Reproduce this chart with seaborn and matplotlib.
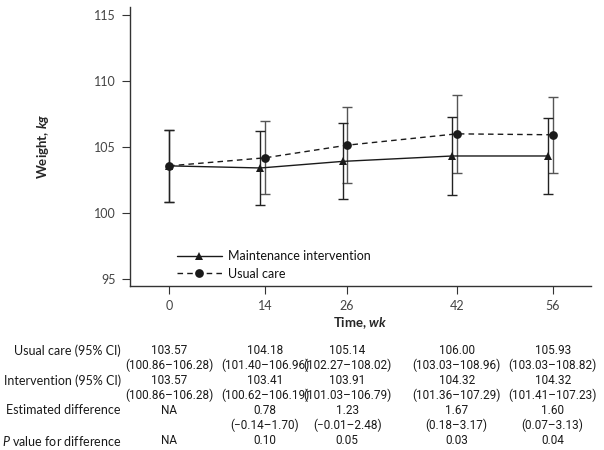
import numpy as np
import pandas as pd
import seaborn as sns
import matplotlib.pyplot as plt
from matplotlib.transforms import blended_transform_factory

weeks = [0, 14, 26, 42, 56]
usual = [103.57, 104.18, 105.14, 106.00, 105.93]
usual_lo = [100.86, 101.40, 102.27, 103.03, 103.03]
usual_hi = [106.28, 106.96, 108.02, 108.96, 108.82]
interv = [103.57, 103.41, 103.91, 104.32, 104.32]
interv_lo = [100.86, 100.62, 101.03, 101.36, 101.41]
interv_hi = [106.28, 106.19, 106.79, 107.29, 107.23]
diff = ["NA", "0.78", "1.23", "1.67", "1.60"]
diff_ci = ["", "(\u22120.14\u20131.70)", "(\u22120.01\u20132.48)", "(0.18\u20133.17)", "(0.07\u20133.13)"]
pvals = ["NA", "0.10", "0.05", "0.03", "0.04"]

sns.set_style("ticks")
plt.rcParams["font.family"] = ["Lato", "DejaVu Sans"]
plt.rcParams["mathtext.fontset"] = "custom"
plt.rcParams["mathtext.rm"] = "Lato"
plt.rcParams["mathtext.it"] = "Lato:italic"
plt.rcParams["mathtext.bf"] = "Lato:bold"
plt.rcParams["mathtext.bfit"] = "Lato:bold:italic"

tab_font = ["Roboto", "DejaVu Sans"]
tab_size = 8.5

fig = plt.figure(figsize=(6.04, 4.5), dpi=100)
ax = fig.add_axes([130 / 604, 1 - 286 / 450, 461 / 604, 279 / 450])

# small dodge so the two groups' error bars don't overlap
dodge = np.array([0 if w == 0 else -0.65 for w in weeks])
x_int = np.array(weeks) + dodge

df = pd.DataFrame({
    "x": list(x_int) + weeks,
    "weight": interv + usual,
    "group": ["Maintenance intervention"] * 5 + ["Usual care"] * 5,
})

ax.errorbar(weeks, usual, yerr=[np.array(usual) - usual_lo, np.array(usual_hi) - usual],
            fmt="none", ecolor="#555555", elinewidth=1, capsize=3.5, capthick=1, zorder=1)
ax.errorbar(x_int, interv, yerr=[np.array(interv) - interv_lo, np.array(interv_hi) - interv],
            fmt="none", ecolor="#222222", elinewidth=1, capsize=3.5, capthick=1, zorder=1)

sns.lineplot(data=df, x="x", y="weight", style="group", ax=ax,
             markers={"Maintenance intervention": "^", "Usual care": "o"},
             dashes={"Maintenance intervention": "", "Usual care": (4, 3)},
             color="#1a1a1a", linewidth=1, markersize=6.3, markeredgewidth=0, zorder=3)

ax.set_xlim(-5.7, 61.6)
ax.set_ylim(94.45, 115.63)
ax.set_xticks(weeks)
ax.set_yticks([95, 100, 105, 110, 115])
ax.tick_params(length=6, width=0.8, color="#333333", labelcolor="#444444", labelsize=9, pad=4)
for s in ["left", "bottom"]:
    ax.spines[s].set_color("#333333")
    ax.spines[s].set_linewidth(1)
sns.despine(ax=ax)

ax.set_xlabel("Time, $\\mathbfit{wk}$", fontsize=9.5, fontweight="bold", labelpad=2)
ax.set_ylabel("Weight, $\\mathbfit{kg}$", fontsize=9.5, fontweight="bold", labelpad=31)

leg = ax.legend(loc="lower left", bbox_to_anchor=(0.088, 0.0), frameon=False,
                fontsize=9, handlelength=3.6, handletextpad=0.5, labelspacing=0.45,
                borderpad=0)
for t in leg.get_texts():
    t.set_color("#111111")

# table under the plot, columns lined up with the x ticks
tr = blended_transform_factory(ax.transData, fig.transFigure)
rows_y = [350.5, 365.5, 380.5, 395.5, 410.5, 425.5, 440.5]
fy = [1 - y / 450 for y in rows_y]
labels = ["Usual care (95% CI)", "Intervention (95% CI)", "Estimated difference",
          "$\\mathit{P}$ value for difference"]
label_rows = [0, 2, 4, 6]
for lab, r in zip(labels, label_rows):
    fig.text(121 / 604, fy[r], lab, ha="right", va="center", fontsize=9, color="#1a1a1a")

for i, w in enumerate(weeks):
    cells = [
        (0, f"{usual[i]:.2f}"),
        (1, f"({usual_lo[i]:.2f}\u2013{usual_hi[i]:.2f})"),
        (2, f"{interv[i]:.2f}"),
        (3, f"({interv_lo[i]:.2f}\u2013{interv_hi[i]:.2f})"),
        (4, diff[i]),
        (5, diff_ci[i]),
        (6, pvals[i]),
    ]
    for r, txt in cells:
        ax.text(w, fy[r], txt, transform=tr, ha="center", va="center",
                fontsize=tab_size, family=tab_font, color="#1a1a1a", clip_on=False)

fig.savefig("out.png", dpi=100)
